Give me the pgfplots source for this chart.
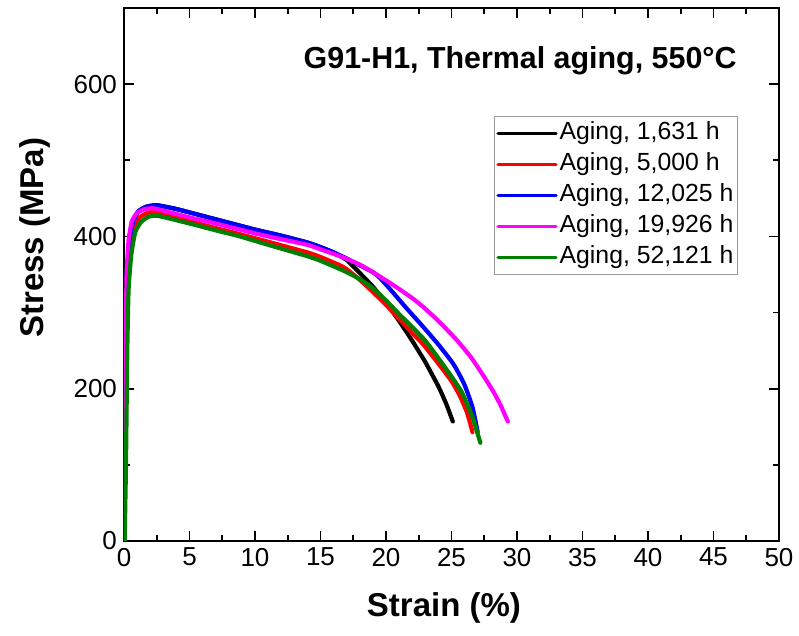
\documentclass[border=0pt]{standalone}
\usepackage{fontspec}
\setmainfont{Liberation Sans}
\usepackage{pgfplots}
\pgfplotsset{compat=1.18}

\definecolor{cblack}{RGB}{0,0,0}
\definecolor{cred}{RGB}{255,0,0}
\definecolor{cblue}{RGB}{0,0,255}
\definecolor{cmag}{RGB}{255,0,255}
\definecolor{cgreen}{RGB}{0,128,0}

\begin{document}
\begin{tikzpicture}
\useasboundingbox (-62pt,-47.5pt) rectangle (337.5pt,270.5pt);
\begin{axis}[
  at={(0,0)}, anchor=south west,
  scale only axis, width=327.5pt, height=266.5pt,
  xmin=0, xmax=50, ymin=0, ymax=700,
  xtick={0,5,...,50}, ytick={0,200,400,600},
  minor xtick={2.5,7.5,...,47.5}, minor ytick={100,300,500},
  tick align=inside, major tick length=5pt, minor tick length=3pt,
  axis line style={line width=1pt},
  every tick/.style={black, line width=0.9pt},
  tick label style={font=\fontsize{13}{15}\selectfont},
  /pgf/number format/assume math mode=true,
  xlabel={Strain (\%)}, ylabel={Stress (MPa)},
  label style={font=\fontsize{16.5}{18}\selectfont\bfseries},
  xlabel style={at={(axis description cs:0.4885,-0.1257)}, anchor=center},
  ylabel style={at={(axis description cs:-0.1359,0.569)}, anchor=center},
  legend style={at={(rel axis cs:0.9374,0.797)}, anchor=north east,
    draw=gray!80, line width=0.6pt, inner xsep=1pt, inner ysep=1.5pt,
    font=\fontsize{12.4}{14}\selectfont, row sep=1.5pt,
    nodes={inner sep=1pt, text height=9pt, text depth=3pt}},
  legend cell align=left,
  legend image code/.code={\draw[#1, line width=1.6pt] (0pt,0pt) -- (29pt,0pt);},
  every axis plot/.append style={line width=2.1pt, line join=round, line cap=round,
    smooth, tension=0.3},
]
% 1,631 h
\addplot[cblack] coordinates {
(0,0) (0.09,100) (0.18,250) (0.28,345) (0.45,392) (0.7,418) (1.1,433) (1.7,439) (2.5,441)
(4,436) (6,427) (8,418) (10,409) (12,401) (14,392) (15,386) (16,379) (17,369)
(18,352) (19,334) (20,313) (21,289) (22,263) (23,235) (24,203) (24.6,180) (25.1,157)};
\addlegendentry{Aging, 1,631 h}
% 5,000 h
\addplot[cred] coordinates {
(0,0) (0.1,100) (0.2,250) (0.3,340) (0.5,385) (0.8,413) (1.2,425) (1.8,431) (2.5,432)
(5,420) (7,411) (8.85,403) (11,393) (14,379) (15,373) (16.5,362) (17,357) (18,343)
(19,327) (20,310) (21,292) (22,273) (22.8,259) (24,233) (25,210) (25.6,192) (26.2,168) (26.6,143)};
\addlegendentry{Aging, 5,000 h}
% 12,025 h
\addplot[cblue] coordinates {
(0,0) (0.08,100) (0.17,250) (0.27,350) (0.45,395) (0.7,420) (1.1,433) (1.7,439) (2.5,441)
(4,436) (6,427) (8,418) (10,409) (12,401) (14,392) (15,386) (16,379) (17,371) (18,362)
(19,353) (19.5,346) (20.3,331) (21.5,307) (22.8,282) (24,258) (25,236) (25.4,225)
(26,205) (26.6,176) (27,143)};
\addlegendentry{Aging, 12,025 h}
% 19,926 h
\addplot[cmag] coordinates {
(0,0) (0.05,100) (0.12,250) (0.2,350) (0.35,395) (0.6,420) (1.0,431) (1.6,436) (2.2,437)
(2.75,435) (5,425) (7,417) (8.85,409) (11,400) (14,389) (15,383) (16.5,374) (18,363)
(19,353) (20.3,339) (21,331) (22,319) (22.8,308) (24,289) (25.4,264) (26.5,241)
(27.4,218) (28.2,196) (28.7,180) (29.3,157)};
\addlegendentry{Aging, 19,926 h}
% 52,121 h
\addplot[cgreen] coordinates {
(0.05,0) (0.15,100) (0.25,250) (0.35,330) (0.55,375) (0.85,405) (1.3,419) (1.9,426) (2.6,427)
(5,417) (7,408) (8.85,400) (11,389) (14,374) (15,368) (16.5,357) (17,353) (18,344)
(19,332) (20,316) (21,298) (22,281) (23,263) (24,240) (25,216) (25.8,195) (26.6,163) (27.2,129)};
\addlegendentry{Aging, 52,121 h}

\node[anchor=east, font=\fontsize{15.2}{17}\selectfont\bfseries]
  at (rel axis cs:0.946,0.902) {G91-H1, Thermal aging, 550°C};
\end{axis}
\end{tikzpicture}
\end{document}
